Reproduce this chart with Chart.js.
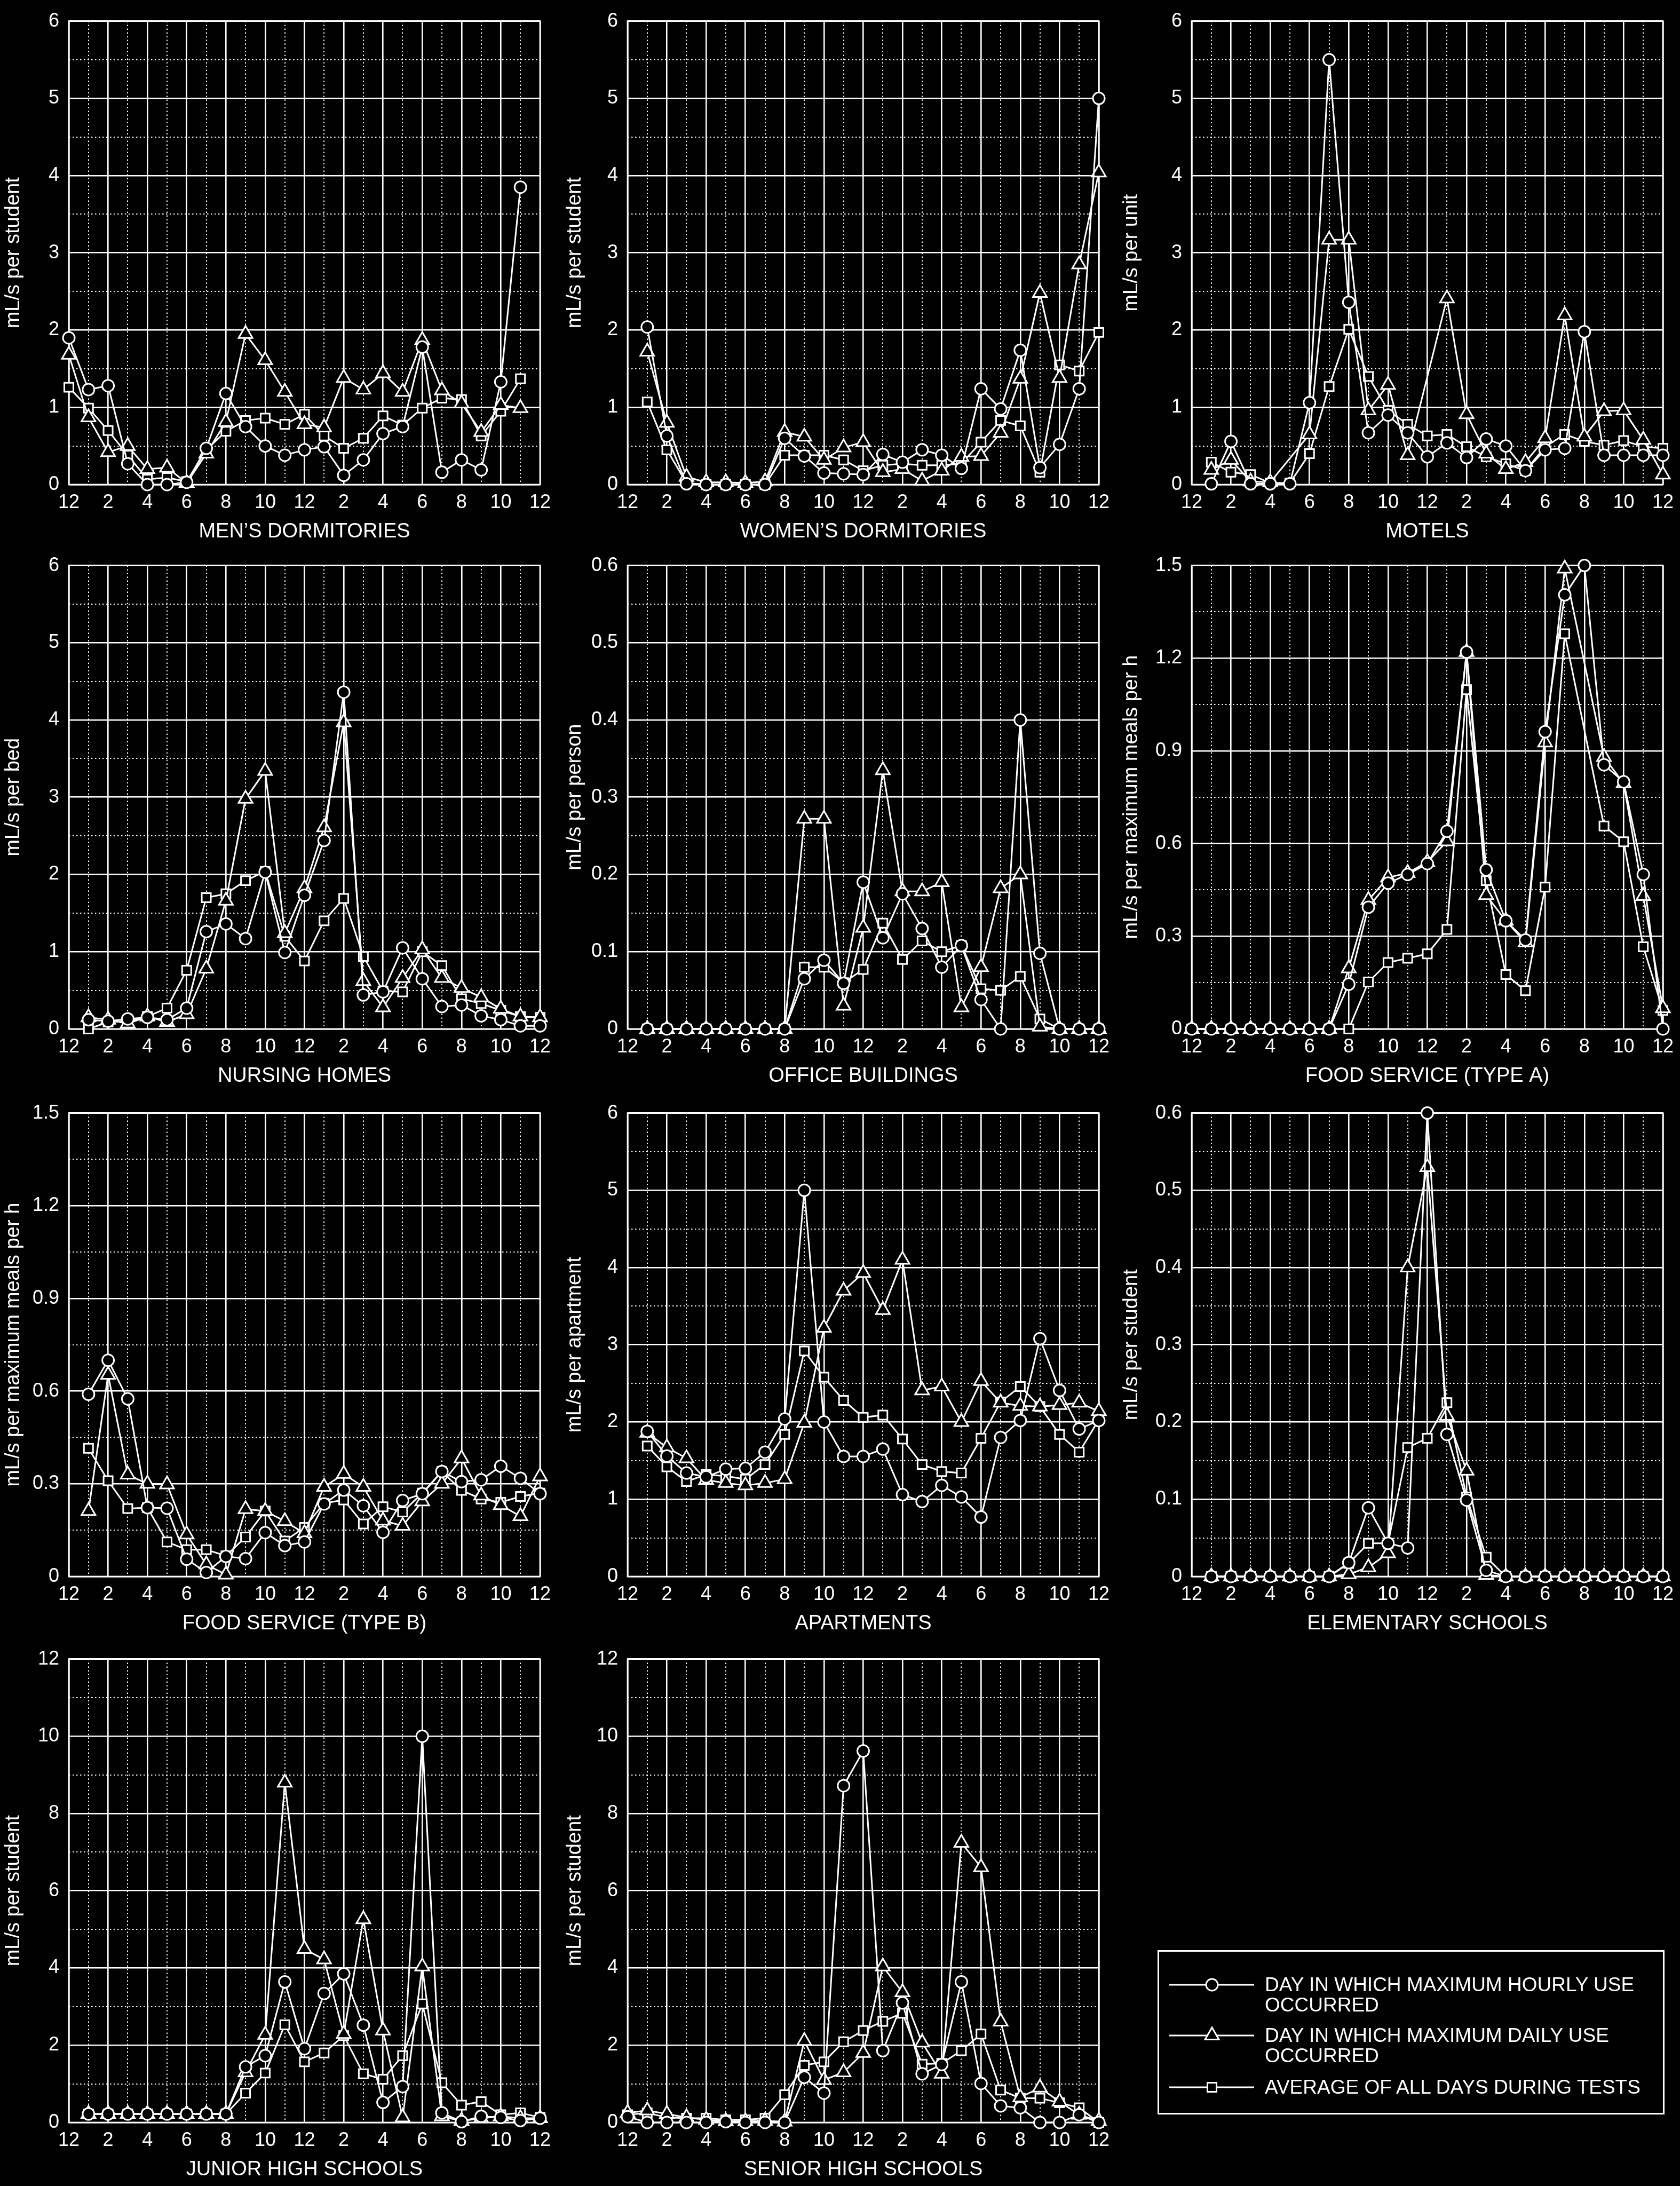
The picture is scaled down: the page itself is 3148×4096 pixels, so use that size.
<!DOCTYPE html>
<html><head><meta charset="utf-8">
<script src="https://cdn.jsdelivr.net/npm/chart.js@4.4.1/dist/chart.umd.min.js"></script>
<style>
html,body{margin:0;padding:0;background:#000;overflow:hidden;}
body{width:3148px;height:4096px;position:relative;font-family:"Liberation Sans",Arial,Helvetica,sans-serif;}
canvas{position:absolute;}
#legend{position:absolute;left:2169px;top:3654px;width:950px;height:308px;box-sizing:border-box;border:3px solid #fff;}
.lg-text{position:absolute;color:#fff;font-size:37px;line-height:38px;white-space:pre;}
#lgsym{position:absolute;left:0;top:0;}
</style></head><body>
<script>
// ---------------- DATA ----------------
const HOURS = [0,1,2,3,4,5,6,7,8,9,10,11,12,13,14,15,16,17,18,19,20,21,22,23,24];
const HOUR_TICKS = ['12','2','4','6','8','10','12','2','4','6','8','10','12'];
const Y_TICKS_6  = ['0','1','2','3','4','5','6'];
const Y_TICKS_06 = ['0','0.1','0.2','0.3','0.4','0.5','0.6'];
const Y_TICKS_15 = ['0','0.3','0.6','0.9','1.2','1.5'];
const Y_TICKS_12 = ['0','2','4','6','8','10','12'];
const SERIES_NAMES = ['DAY IN WHICH MAXIMUM HOURLY USE\nOCCURRED','DAY IN WHICH MAXIMUM DAILY USE\nOCCURRED','AVERAGE OF ALL DAYS DURING TESTS'];

const MEN_HOURLY = [1.90,1.23,1.28,0.27,0.00,0.00,0.03,0.47,1.18,0.75,0.50,0.38,0.45,0.49,0.12,0.32,0.66,0.75,1.78,0.16,0.32,0.19,1.33,3.85,null];
const MEN_DAILY  = [1.68,0.87,0.42,0.50,0.20,0.22,0.02,0.40,0.81,1.95,1.61,1.20,0.78,0.74,1.38,1.23,1.44,1.20,1.87,1.22,1.05,0.68,1.03,0.99,null];
const MEN_AVG    = [1.26,0.99,0.70,0.38,0.07,0.09,0.04,0.45,0.69,0.83,0.86,0.78,0.91,0.63,0.47,0.60,0.89,0.77,0.99,1.12,1.10,0.63,0.95,1.37,null];

const WOMEN_HOURLY = [null,2.04,0.63,0.01,0,0,0,0,0.60,0.37,0.15,0.14,0.13,0.39,0.29,0.45,0.38,0.21,1.24,0.98,1.74,0.22,0.52,1.24,5.00];
const WOMEN_DAILY  = [null,1.72,0.80,0.10,0.03,0.03,0.02,0.04,0.68,0.62,0.32,0.48,0.55,0.16,0.20,0.05,0.18,0.36,0.37,0.67,1.37,2.48,1.38,2.85,4.04];
const WOMEN_AVG    = [null,1.07,0.45,0.02,0,0,0,0,0.38,0.38,0.38,0.32,0.18,0.25,0.27,0.25,0.25,0.27,0.55,0.83,0.76,0.16,1.55,1.47,1.97];

const MOTEL_HOURLY = [null,0.01,0.56,0.01,0.01,0.01,1.06,5.50,2.36,0.67,0.90,0.67,0.36,0.54,0.35,0.59,0.50,0.18,0.45,0.47,1.98,0.38,0.38,0.38,0.38];
const MOTEL_DAILY  = [null,0.19,0.32,0.04,0.03,null,0.65,3.17,3.17,0.96,1.29,0.38,null,2.41,0.91,0.40,0.20,0.29,0.60,2.19,0.62,0.95,0.96,0.58,0.13];
const MOTEL_AVG    = [null,0.29,0.16,0.13,0.02,0.02,0.40,1.27,2.01,1.40,0.96,0.78,0.63,0.65,0.49,0.36,0.27,0.18,0.49,0.65,0.56,0.51,0.57,0.49,0.47];

const NURSING_HOURLY = [null,0.12,0.10,0.13,0.15,0.12,0.27,1.26,1.36,1.17,2.03,0.99,1.73,2.44,4.36,0.44,0.48,1.05,0.65,0.29,0.31,0.17,0.12,0.04,0.04];
const NURSING_DAILY  = [null,0.15,0.12,0.07,0.16,0.09,0.19,0.78,1.66,2.98,3.34,1.24,1.82,2.61,3.97,0.62,0.28,0.66,1.03,0.66,0.53,0.41,0.26,0.16,0.15];
const NURSING_AVG    = [null,0.00,0.09,0.10,0.16,0.27,0.76,1.70,1.75,1.92,2.04,1.20,0.88,1.40,1.69,0.94,0.49,0.48,1.00,0.82,0.39,0.33,0.24,0.16,0.15];

const OFFICE_HOURLY = [null,0,0,0,0,0,0,0,0,0.065,0.089,0.059,0.190,0.118,0.175,0.130,0.080,0.108,0.038,0,0.400,0.098,0,0,0];
const OFFICE_DAILY  = [null,0,0,0,0,0,0,0,0,0.272,0.272,0.030,0.131,0.335,0.178,0.178,0.190,0.028,0.080,0.182,0.200,0.003,0,0,0];
const OFFICE_AVG    = [null,0,0,0,0,0,0,0,0,0.080,0.080,0.060,0.077,0.137,0.090,0.114,0.100,0.108,0.052,0.050,0.068,0.013,0,0,0];

const FOODA_HOURLY = [0,0,0,0,0,0,0,0,0.145,0.394,0.472,0.500,0.535,0.640,1.220,0.515,0.350,0.288,0.962,1.405,1.500,0.855,0.800,0.500,0];
const FOODA_DAILY  = [0,0,0,0,0,0,0,0,0.196,0.417,0.490,0.505,0.540,0.607,1.220,0.433,0.350,0.280,0.927,1.490,null,0.880,0.795,0.430,0.067];
const FOODA_AVG    = [0,0,0,0,0,0,0,0,0,0.152,0.215,0.229,0.243,0.322,1.098,0.480,0.176,0.124,0.459,1.279,null,0.657,0.606,0.266,0.060];

const FOODB_HOURLY = [null,0.590,0.700,0.575,0.223,0.221,0.056,0.013,0.065,0.058,0.142,0.100,0.112,0.235,0.280,0.229,0.143,0.246,0.268,0.340,0.307,0.313,0.357,0.318,0.268];
const FOODB_DAILY  = [null,0.212,0.653,0.330,0.300,0.298,0.136,0.039,0.006,0.218,0.212,0.179,0.140,0.290,0.332,0.290,0.181,0.164,0.243,0.300,0.382,0.262,0.231,0.195,0.324];
const FOODB_AVG    = [null,0.415,0.310,0.220,0.223,0.112,0.087,0.087,0.067,0.128,0.212,0.115,0.159,0.237,0.248,0.170,0.226,0.209,0.270,0.340,0.279,0.251,0.240,0.259,0.270];

const APT_HOURLY = [null,1.88,1.56,1.34,1.29,1.39,1.40,1.61,2.04,5.00,2.00,1.555,1.555,1.65,1.06,0.97,1.18,1.03,0.77,1.80,2.02,3.08,2.41,1.91,2.02];
const APT_DAILY  = [null,1.86,1.67,1.53,1.25,1.21,1.18,1.21,1.26,1.99,3.22,3.70,3.93,3.45,4.10,2.41,2.46,2.00,2.53,2.25,2.21,2.20,2.22,2.25,2.14];
const APT_AVG    = [null,1.69,1.42,1.23,1.32,1.30,1.26,1.45,1.84,2.92,2.58,2.28,2.06,2.09,1.78,1.45,1.36,1.34,1.79,2.26,2.46,2.20,1.84,1.61,2.03];

const ELEM_HOURLY = [null,0,0,0,0,0,0,0,0.018,0.089,0.043,0.037,0.600,0.184,0.099,0.008,0,0,0,0,0,0,0,0,0];
const ELEM_DAILY  = [null,0,0,0,0,0,0,0,0.003,0.012,0.030,0.400,0.530,0.208,0.137,0.002,0,0,0,0,0,0,0,0,0];
const ELEM_AVG    = [null,0,0,0,0,0,0,0,0.017,0.043,0.043,0.167,0.179,0.225,0.103,0.025,0,0,0,0,0,0,0,0,0];

const JR_HOURLY = [null,0.22,0.22,0.22,0.22,0.22,0.22,0.22,0.22,1.44,1.73,3.64,1.91,3.34,3.85,2.52,0.52,0.93,10.0,0.25,0.02,0.16,0.13,0.05,0.11];
const JR_DAILY  = [null,0.22,0.22,0.22,0.22,0.22,0.22,0.22,0.22,1.30,2.27,8.80,4.49,4.22,2.29,5.26,2.38,0.13,4.04,0.16,0.04,0.11,0.16,0.11,0.11];
const JR_AVG    = [null,0.22,0.22,0.22,0.22,0.22,0.22,0.22,0.22,0.76,1.28,2.53,1.57,1.80,2.25,1.26,1.12,1.73,3.07,1.03,0.45,0.54,0.20,0.25,0.13];

const SR_HOURLY = [0.15,0,0,0,0,0.02,0,0,0,1.17,0.76,8.72,9.62,1.86,3.10,1.26,1.50,3.64,1.01,0.43,0.38,0,0,0.20,0];
const SR_DAILY  = [0.25,0.31,0.22,0.13,0.07,0.03,0.03,0.04,0.02,2.11,1.10,1.30,1.80,4.04,3.37,2.07,1.26,7.24,6.61,2.61,0.65,0.90,0.54,0.20,0.04];
const SR_AVG    = [0.20,0.25,0.13,0.11,0.11,0.07,0.07,0.11,0.72,1.48,1.57,2.09,2.38,2.62,2.83,1.51,1.53,1.86,2.29,0.84,0.63,0.63,0.51,0.38,0];

const PANELS = [
  {title:'MEN\u2019S DORMITORIES',   yTitle:'mL/s per student', ymax:6,   ystep:1,   yTicks:Y_TICKS_6,  series:[MEN_HOURLY,MEN_DAILY,MEN_AVG]},
  {title:'WOMEN\u2019S DORMITORIES', yTitle:'mL/s per student', ymax:6,   ystep:1,   yTicks:Y_TICKS_6,  series:[WOMEN_HOURLY,WOMEN_DAILY,WOMEN_AVG]},
  {title:'MOTELS',                   yTitle:'mL/s per unit',    ymax:6,   ystep:1,   yTicks:Y_TICKS_6,  series:[MOTEL_HOURLY,MOTEL_DAILY,MOTEL_AVG]},
  {title:'NURSING HOMES',            yTitle:'mL/s per bed',     ymax:6,   ystep:1,   yTicks:Y_TICKS_6,  series:[NURSING_HOURLY,NURSING_DAILY,NURSING_AVG]},
  {title:'OFFICE BUILDINGS',         yTitle:'mL/s per person',  ymax:0.6, ystep:0.1, yTicks:Y_TICKS_06, series:[OFFICE_HOURLY,OFFICE_DAILY,OFFICE_AVG]},
  {title:'FOOD SERVICE (TYPE A)',    yTitle:'mL/s per maximum meals per h', ymax:1.5, ystep:0.3, yTicks:Y_TICKS_15, series:[FOODA_HOURLY,FOODA_DAILY,FOODA_AVG]},
  {title:'FOOD SERVICE (TYPE B)',    yTitle:'mL/s per maximum meals per h', ymax:1.5, ystep:0.3, yTicks:Y_TICKS_15, series:[FOODB_HOURLY,FOODB_DAILY,FOODB_AVG]},
  {title:'APARTMENTS',               yTitle:'mL/s per apartment', ymax:6, ystep:1,   yTicks:Y_TICKS_6,  series:[APT_HOURLY,APT_DAILY,APT_AVG]},
  {title:'ELEMENTARY SCHOOLS',       yTitle:'mL/s per student', ymax:0.6, ystep:0.1, yTicks:Y_TICKS_06, series:[ELEM_HOURLY,ELEM_DAILY,ELEM_AVG]},
  {title:'JUNIOR HIGH SCHOOLS',      yTitle:'mL/s per student', ymax:12,  ystep:2,   yTicks:Y_TICKS_12, series:[JR_HOURLY,JR_DAILY,JR_AVG]},
  {title:'SENIOR HIGH SCHOOLS',      yTitle:'mL/s per student', ymax:12,  ystep:2,   yTicks:Y_TICKS_12, series:[SR_HOURLY,SR_DAILY,SR_AVG]}
];

// ---------------- LAYOUT / STYLE (window px) ----------------
const FONT = '"Liberation Sans", Arial, Helvetica, sans-serif';
const COL_CANVAS_LEFT = [0, 1052, 2095];
const COL_YAXIS_W     = [129, 124, 138];
const ROW_CANVAS_TOP  = [0, 1020, 2046, 3069];
const PAD_TOP = 30, PAD_RIGHT = 30, PLOT_W = 885, PLOT_H = 878, XAXIS_H = 111;
const MARKERS = [
  {style:'circle',   radius:11},
  {style:'triangle', radius:15},
  {style:'rect',     radius:12}
];

const frameAndMinorGrid = {
  id: 'frameAndMinorGrid',
  beforeDatasetsDraw(chart) {
    const {ctx, chartArea: a, scales: {x, y}} = chart;
    const step = chart.options.plugins.frameAndMinorGrid.ystep;
    ctx.save();
    ctx.strokeStyle = '#fff';
    ctx.lineWidth = 2;
    ctx.setLineDash([2.5, 4.5]);
    ctx.beginPath();
    for (let h = 1; h < 24; h += 2) {
      const px = Math.round(x.getPixelForValue(h));
      ctx.moveTo(px, a.top); ctx.lineTo(px, a.bottom);
    }
    const n = Math.round(y.max / step);
    for (let k = 0; k < n; k++) {
      const py = Math.round(y.getPixelForValue((k + 0.5) * step));
      ctx.moveTo(a.left, py); ctx.lineTo(a.right, py);
    }
    ctx.stroke();
    ctx.setLineDash([]);
    ctx.lineWidth = 2.8;
    ctx.strokeRect(a.left, a.top, a.right - a.left, a.bottom - a.top);
    ctx.restore();
  }
};

PANELS.forEach((p, i) => {
  const col = i % 3, row = Math.floor(i / 3);
  const yw = COL_YAXIS_W[col];
  const cv = document.createElement('canvas');
  cv.width = yw + PLOT_W + PAD_RIGHT;
  cv.height = PAD_TOP + PLOT_H + XAXIS_H;
  cv.style.left = COL_CANVAS_LEFT[col] + 'px';
  cv.style.top = ROW_CANVAS_TOP[row] + 'px';
  document.body.appendChild(cv);

  new Chart(cv, {
    type: 'line',
    data: {
      labels: HOURS,
      datasets: p.series.map((s, k) => ({
        label: SERIES_NAMES[k],
        data: s,
        borderColor: '#fff',
        borderWidth: 3,
        pointStyle: MARKERS[k].style,
        pointRadius: MARKERS[k].radius,
        pointBorderWidth: 3,
        pointBorderColor: '#fff',
        pointBackgroundColor: '#000',
        spanGaps: true,
        clip: false,
        tension: 0
      }))
    },
    options: {
      responsive: false,
      animation: false,
      devicePixelRatio: 1,
      events: [],
      layout: {padding: {top: PAD_TOP, right: PAD_RIGHT, left: 0, bottom: 0}},
      plugins: {
        legend: {display: false},
        tooltip: {enabled: false},
        frameAndMinorGrid: {ystep: p.ystep}
      },
      scales: {
        x: {
          type: 'linear', min: 0, max: 24,
          ticks: {stepSize: 2, autoSkip: false, maxRotation: 0, color: '#fff', padding: 12,
                  font: {family: FONT, size: 36},
                  callback: (v) => HOUR_TICKS[Math.round(v / 2)]},
          grid: {color: '#fff', lineWidth: 2.6, drawTicks: false},
          border: {display: false},
          title: {display: true, text: p.title, color: '#fff', font: {family: FONT, size: 38}, padding: {top: 0, bottom: 0}},
          afterFit: (s) => { s.height = XAXIS_H; }
        },
        y: {
          type: 'linear', min: 0, max: p.ymax,
          ticks: {stepSize: p.ystep, color: '#fff', padding: 18,
                  font: {family: FONT, size: 36},
                  callback: (v, idx) => p.yTicks[idx]},
          grid: {color: '#fff', lineWidth: 2.6, drawTicks: false},
          border: {display: false},
          title: {display: true, text: p.yTitle, color: '#fff', font: {family: FONT, size: 38}, padding: {top: 3, bottom: 0}},
          afterFit: (s) => { s.width = yw; }
        }
      }
    },
    plugins: [frameAndMinorGrid]
  });
});

// ---------------- LEGEND ----------------
const LG_ROW_Y = [3719, 3814, 3911];
const LG_TEXT_TOP = [3700, 3795, 3892];
const lg = document.createElement('div'); lg.id = 'legend'; document.body.appendChild(lg);
const svgNS = 'http://www.w3.org/2000/svg';
const svg = document.createElementNS(svgNS, 'svg');
svg.setAttribute('id', 'lgsym'); svg.setAttribute('width', '3148'); svg.setAttribute('height', '4096');
document.body.appendChild(svg);
function el(tag, attrs) { const e = document.createElementNS(svgNS, tag); for (const k in attrs) e.setAttribute(k, attrs[k]); svg.appendChild(e); return e; }
SERIES_NAMES.forEach((name, k) => {
  const y = LG_ROW_Y[k], cx = 2271;
  el('line', {x1: 2191, y1: y, x2: 2350, y2: y, stroke: '#fff', 'stroke-width': 3});
  const st = {fill: '#000', stroke: '#fff', 'stroke-width': 3};
  if (k === 0) el('circle', Object.assign({cx, cy: y, r: 11}, st));
  else if (k === 1) el('polygon', Object.assign({points: `${cx},${y-15} ${cx+13},${y+7.5} ${cx-13},${y+7.5}`}, st));
  else el('rect', Object.assign({x: cx-8.5, y: y-8.5, width: 17, height: 17}, st));
  const t = document.createElement('div');
  t.className = 'lg-text';
  t.style.left = '2370px'; t.style.top = LG_TEXT_TOP[k] + 'px';
  t.textContent = name;
  document.body.appendChild(t);
});
</script>
</body></html>
